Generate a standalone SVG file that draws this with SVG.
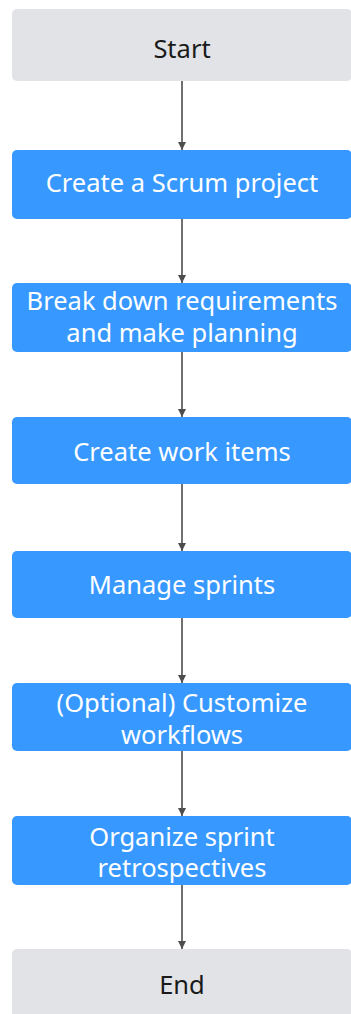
<svg xmlns="http://www.w3.org/2000/svg" width="351" height="1014" viewBox="0 0 351 1014">
<defs>
<marker id="ah" viewBox="0 0 8 10" refX="8" refY="4" markerWidth="8" markerHeight="10" markerUnits="userSpaceOnUse" orient="auto">
<path d="M0,0 L8,4 L0,8 z" fill="#4d4d4d"/>
</marker>
<style>
.g{fill:#e1e3e6}
.b{fill:#3799ff}
.t{font-family:"Noto Sans","Open Sans",sans-serif;font-size:25.5px;text-anchor:middle}
.tg{fill:#1a1a1a}
.tb{fill:#ffffff}
.c{stroke:#4d4d4d;stroke-width:1.6;fill:none}
</style>
</defs>
<rect width="351" height="1014" fill="#ffffff"/>
<g id="start"><rect class="g" x="12" y="9" width="340" height="72" rx="5"/><text class="t tg" x="182" y="58">Start</text></g>
<g id="n1"><rect class="b" x="12" y="150" width="340" height="69" rx="5"/><text class="t tb" x="182" y="192">Create a Scrum project</text></g>
<g id="n2"><rect class="b" x="12" y="283" width="340" height="69" rx="5"/><text class="t tb" x="182" y="310">Break down requirements</text><text class="t tb" x="182" y="342">and make planning</text></g>
<g id="n3"><rect class="b" x="12" y="417" width="340" height="67" rx="5"/><text class="t tb" x="182" y="461">Create work items</text></g>
<g id="n4"><rect class="b" x="12" y="551" width="340" height="67" rx="5"/><text class="t tb" x="182" y="594">Manage sprints</text></g>
<g id="n5"><rect class="b" x="12" y="683" width="340" height="68" rx="5"/><text class="t tb" x="182" y="712">(Optional) Customize</text><text class="t tb" x="182" y="744">workflows</text></g>
<g id="n6"><rect class="b" x="12" y="816" width="340" height="69" rx="5"/><text class="t tb" x="182" y="846">Organize sprint</text><text class="t tb" x="182" y="877">retrospectives</text></g>
<g id="end"><rect class="g" x="12" y="949" width="340" height="72" rx="5"/><text class="t tg" x="182" y="994">End</text></g>
<g id="connectors">
<line class="c" x1="182" y1="81" x2="182" y2="150" marker-end="url(#ah)"/>
<line class="c" x1="182" y1="219" x2="182" y2="283" marker-end="url(#ah)"/>
<line class="c" x1="182" y1="352" x2="182" y2="417" marker-end="url(#ah)"/>
<line class="c" x1="182" y1="484" x2="182" y2="551" marker-end="url(#ah)"/>
<line class="c" x1="182" y1="618" x2="182" y2="683" marker-end="url(#ah)"/>
<line class="c" x1="182" y1="751" x2="182" y2="816" marker-end="url(#ah)"/>
<line class="c" x1="182" y1="885" x2="182" y2="949" marker-end="url(#ah)"/>
</g>
</svg>
